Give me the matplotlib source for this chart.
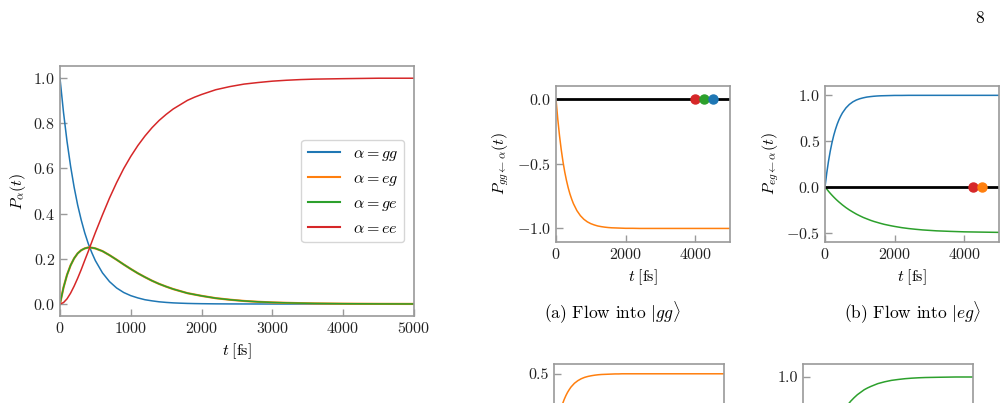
import matplotlib
matplotlib.use('Agg')
import matplotlib.pyplot as plt
from matplotlib.ticker import FormatStrFormatter

# ============================================
# DATOS
# ============================================
t = [0, 50, 100, 150, 200, 250, 300, 350, 400, 450, 500,
     600, 700, 800, 900, 1000, 1100, 1200, 1300, 1400, 1500, 1600, 1700, 1800, 1900, 2000,
     2200, 2400, 2600, 2800, 3000, 3200, 3400, 3600,
     4000, 4500, 5000]

# poblaciones P_alpha(t)
p_gg = [1.0, 0.848, 0.719, 0.610, 0.517, 0.438, 0.372, 0.315, 0.267, 0.227, 0.192,
        0.138, 0.099, 0.071, 0.051, 0.037, 0.027, 0.019, 0.014, 0.0098, 0.0071, 0.0050, 0.0037, 0.0026, 0.0019, 0.0014,
        0.0007, 0.0004, 0.0002, 0.0001, 0.0, 0.0, 0.0, 0.0,
        0.0, 0.0, 0.0]
p_eg = [0.0, 0.073, 0.129, 0.171, 0.202, 0.224, 0.238, 0.246, 0.250, 0.249, 0.246,
        0.234, 0.216, 0.196, 0.175, 0.155, 0.136, 0.119, 0.103, 0.089, 0.077, 0.066, 0.057, 0.048, 0.042, 0.036,
        0.0258, 0.019, 0.0135, 0.0097, 0.0070, 0.0051, 0.0037, 0.0026,
        0.0014, 0.0006, 0.0003]
p_ge = [0.0, 0.073, 0.129, 0.171, 0.202, 0.224, 0.238, 0.246, 0.250, 0.249, 0.246,
        0.234, 0.216, 0.196, 0.175, 0.155, 0.136, 0.119, 0.103, 0.089, 0.077, 0.066, 0.057, 0.048, 0.042, 0.036,
        0.0258, 0.019, 0.0135, 0.0097, 0.0070, 0.0051, 0.0037, 0.0026,
        0.0014, 0.0006, 0.0003]
p_ee = [0.0, 0.0062, 0.023, 0.048, 0.079, 0.114, 0.152, 0.193, 0.233, 0.275, 0.316,
        0.394, 0.469, 0.537, 0.599, 0.653, 0.701, 0.743, 0.780, 0.812, 0.839, 0.863, 0.882, 0.901, 0.915, 0.927,
        0.948, 0.962, 0.973, 0.980, 0.986, 0.990, 0.993, 0.995,
        0.997, 0.999, 0.999]

# (a) flujo hacia |gg>
flujo_gg_eg = [0.0, -0.152, -0.281, -0.390, -0.483, -0.562, -0.628, -0.685, -0.733, -0.773, -0.808,
               -0.862, -0.901, -0.929, -0.949, -0.963, -0.973, -0.981, -0.986, -0.990, -0.993, -0.995, -0.996,
               -0.997, -0.998, -0.999,
               -0.999, -1.0, -1.0, -1.0, -1.0, -1.0, -1.0, -1.0,
               -1.0, -1.0, -1.0]
# (b) flujo hacia |eg>
flujo_eg_gg = [0.0, 0.152, 0.281, 0.390, 0.483, 0.562, 0.628, 0.685, 0.733, 0.773, 0.808,
               0.862, 0.901, 0.929, 0.949, 0.963, 0.973, 0.981, 0.986, 0.990, 0.993, 0.995, 0.996,
               0.997, 0.998, 0.999,
               0.999, 1.0, 1.0, 1.0, 1.0, 1.0, 1.0, 1.0,
               1.0, 1.0, 1.0]
flujo_eg_ge = [0.0, -0.024, -0.048, -0.070, -0.091, -0.111, -0.130, -0.148, -0.165, -0.181, -0.197,
               -0.226, -0.252, -0.275, -0.297, -0.316, -0.334, -0.349, -0.364, -0.377, -0.388, -0.399, -0.409,
               -0.417, -0.425, -0.432,
               -0.445, -0.455, -0.463, -0.470, -0.475, -0.480, -0.483, -0.486,
               -0.491, -0.494, -0.497]
# (c), (d) paneles inferiores (cortados por el borde)
flujo_c = [0.0, 0.076, 0.140, 0.195, 0.241, 0.281, 0.314, 0.342, 0.366, 0.386, 0.404,
           0.431, 0.450, 0.464, 0.474, 0.481, 0.486, 0.490, 0.493, 0.495, 0.496, 0.497, 0.498, 0.499, 0.499, 0.5,
           0.5, 0.5, 0.5, 0.5, 0.5, 0.5, 0.5, 0.5,
           0.5, 0.5, 0.5]
flujo_d = p_ee

puntos_a = [4000, 4250, 4500]
colores_a = ['tab:red', 'tab:green', 'tab:blue']
puntos_b = [4250, 4500]
colores_b = ['tab:red', 'tab:orange']

# ============================================
# ESTILO
# ============================================
plt.rcParams['font.family'] = 'serif'
plt.rcParams['font.serif'] = ['cmr10']
plt.rcParams['mathtext.fontset'] = 'cm'
plt.rcParams['axes.formatter.use_mathtext'] = True
plt.rcParams['font.size'] = 11.5
plt.rcParams['axes.unicode_minus'] = True

gris = '#9a9a9a'


def estilo(ax):
    for s in ax.spines.values():
        s.set_color(gris)
        s.set_linewidth(1.2)
    ax.tick_params(direction='in', length=5, width=1, color=gris, labelcolor='#222222',
                   top=False, right=False)


fig = plt.figure(figsize=(10.06, 4.03), dpi=100)

# ============================================
# GRAFICA PRINCIPAL
# ============================================
ax = fig.add_axes([0.0596, 0.2159, 0.3519, 0.6203])
lw = 1.1
ax.plot(t, p_gg, color='tab:blue', lw=lw, label=r'$\alpha = gg$')
ax.plot(t, p_eg, color='tab:orange', lw=lw + 0.5, label=r'$\alpha = eg$')
ax.plot(t, p_ge, color='tab:green', lw=lw, label=r'$\alpha = ge$')
ax.plot(t, p_ee, color='tab:red', lw=lw, label=r'$\alpha = ee$')
ax.set_xlim(0, 5000)
ax.set_ylim(-0.053, 1.053)
ax.set_xticks([0, 1000, 2000, 3000, 4000, 5000])
ax.set_yticks([0.0, 0.2, 0.4, 0.6, 0.8, 1.0])
ax.set_xlabel(r'$t\;[\mathrm{fs}]$')
ax.set_ylabel(r'$P_\alpha(t)$')
estilo(ax)
leg = ax.legend(loc='center right', fontsize=11.5, handlelength=2.0, borderaxespad=0.6,
                labelspacing=0.55)
for linea in leg.get_lines():
    linea.set_linewidth(1.5)

# ============================================
# (a) Flujo hacia |gg>
# ============================================
axa = fig.add_axes([0.5527, 0.3995, 0.1730, 0.3871])
axa.plot(t, flujo_gg_eg, color='tab:orange', lw=lw)
axa.axhline(0, color='black', lw=2)
for x, c in zip(puntos_a, colores_a):
    axa.plot(x, 0, 'o', color=c, ms=6.5)
axa.set_xlim(0, 5000)
axa.set_ylim(-1.105, 0.103)
axa.set_xticks([0, 2000, 4000])
axa.set_yticks([-1.0, -0.5, 0.0])
axa.set_xlabel(r'$t\;[\mathrm{fs}]$')
axa.set_ylabel(r'$P_{gg\leftarrow\alpha}(t)$')
estilo(axa)

# ============================================
# (b) Flujo hacia |eg>
# ============================================
axb = fig.add_axes([0.8201, 0.3995, 0.1730, 0.3871])
axb.plot(t, flujo_eg_gg, color='tab:blue', lw=lw)
axb.plot(t, flujo_eg_ge, color='tab:green', lw=lw)
axb.axhline(0, color='black', lw=2)
for x, c in zip(puntos_b, colores_b):
    axb.plot(x, 0, 'o', color=c, ms=6.5)
axb.set_xlim(0, 5000)
axb.set_ylim(-0.602, 1.102)
axb.set_xticks([0, 2000, 4000])
axb.set_yticks([-0.5, 0.0, 0.5, 1.0])
axb.set_xlabel(r'$t\;[\mathrm{fs}]$')
axb.set_ylabel(r'$P_{eg\leftarrow\alpha}(t)$')
estilo(axb)

# ============================================
# (c), (d) paneles inferiores, cortados por el borde
# ============================================
axc = fig.add_axes([0.5507, -0.290, 0.169, 0.3871])
axc.plot(t, flujo_c, color='tab:orange', lw=lw)
axc.set_xlim(0, 5000)
axc.set_ylim(-0.56, 0.572)
axc.set_yticks([0.5])
axc.yaxis.set_major_formatter(FormatStrFormatter('%.1f'))
axc.set_xticks([])
estilo(axc)

axd = fig.add_axes([0.7982, -0.290, 0.169, 0.3871])
axd.plot(t, flujo_d, color='tab:green', lw=lw)
axd.set_xlim(0, 5000)
axd.set_ylim(-0.1, 1.1)
axd.set_yticks([1.0])
axd.yaxis.set_major_formatter(FormatStrFormatter('%.1f'))
axd.set_xticks([])
estilo(axd)

# ============================================
# TEXTOS
# ============================================
fig.text(0.6083, 0.2233, r'(a) Flow into $|gg\rangle$', ha='center', va='center', fontsize=12.5)
fig.text(0.9076, 0.2233, r'(b) Flow into $|eg\rangle$', ha='center', va='center', fontsize=12.5)
fig.text(0.974, 0.955, '8', ha='center', va='center', fontsize=12.5)

fig.savefig('out.png', dpi=100)
plt.close(fig)
